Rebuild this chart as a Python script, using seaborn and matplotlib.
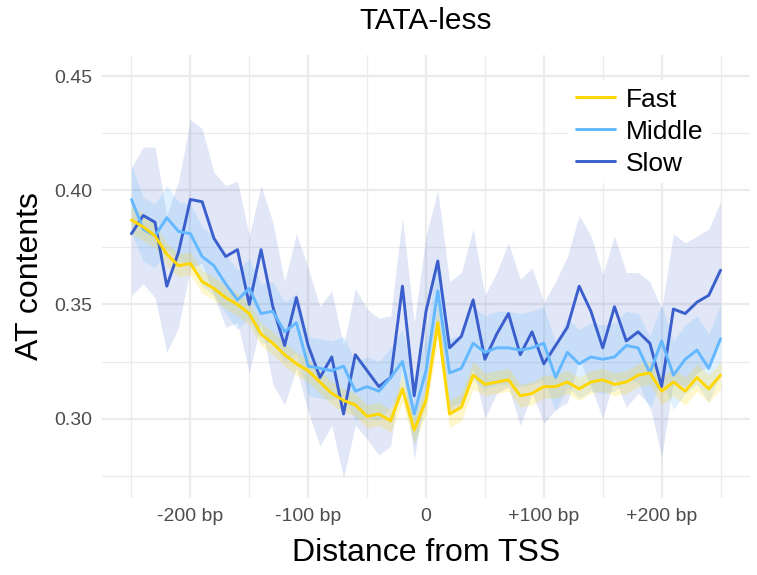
import matplotlib
matplotlib.use("Agg")
import matplotlib.pyplot as plt
import pandas as pd
import seaborn as sns
from matplotlib.lines import Line2D
from matplotlib.ticker import FixedLocator

# distance from TSS (bp), one bin every 10 bp
positions = list(range(-250, 251, 10))

fast_at = [0.387, 0.384, 0.380, 0.372, 0.367, 0.368, 0.360, 0.357, 0.353, 0.350,
           0.346, 0.337, 0.333, 0.328, 0.324, 0.321, 0.316, 0.311, 0.308, 0.306,
           0.301, 0.302, 0.299, 0.313, 0.295, 0.308, 0.342, 0.302, 0.305, 0.319,
           0.315, 0.316, 0.317, 0.310, 0.311, 0.314, 0.314, 0.316, 0.313, 0.316,
           0.317, 0.315, 0.316, 0.319, 0.320, 0.312, 0.316, 0.312, 0.318, 0.313,
           0.319]
middle_at = [0.396, 0.383, 0.380, 0.388, 0.382, 0.381, 0.371, 0.367, 0.359, 0.352,
             0.357, 0.346, 0.347, 0.338, 0.342, 0.323, 0.322, 0.321, 0.323, 0.312,
             0.314, 0.312, 0.318, 0.325, 0.302, 0.321, 0.356, 0.320, 0.322, 0.333,
             0.329, 0.331, 0.331, 0.330, 0.331, 0.333, 0.318, 0.329, 0.324, 0.327,
             0.326, 0.327, 0.332, 0.331, 0.320, 0.334, 0.319, 0.326, 0.330, 0.322,
             0.335]
slow_at = [0.381, 0.389, 0.386, 0.358, 0.373, 0.396, 0.395, 0.379, 0.371, 0.374,
           0.350, 0.374, 0.349, 0.332, 0.353, 0.332, 0.318, 0.327, 0.302, 0.328,
           0.321, 0.314, 0.318, 0.358, 0.310, 0.347, 0.369, 0.331, 0.336, 0.352,
           0.326, 0.337, 0.346, 0.328, 0.338, 0.324, 0.332, 0.340, 0.358, 0.347,
           0.331, 0.349, 0.334, 0.338, 0.333, 0.314, 0.348, 0.346, 0.351, 0.354,
           0.365]

# ribbons
fast_err = [0.006, 0.006, 0.005, 0.005, 0.005, 0.005, 0.005, 0.005, 0.005, 0.005,
            0.005, 0.005, 0.005, 0.005, 0.005, 0.005, 0.005, 0.005, 0.005, 0.005,
            0.005, 0.005, 0.005, 0.006, 0.006, 0.006, 0.007, 0.006, 0.006, 0.006,
            0.005, 0.005, 0.005, 0.005, 0.005, 0.005, 0.005, 0.005, 0.005, 0.005,
            0.005, 0.005, 0.005, 0.005, 0.005, 0.006, 0.006, 0.006, 0.006, 0.006,
            0.006]
middle_err = [0.015, 0.014, 0.014, 0.014, 0.013, 0.013, 0.013, 0.013, 0.013, 0.013,
              0.013, 0.013, 0.013, 0.013, 0.013, 0.013, 0.013, 0.013, 0.013, 0.013,
              0.013, 0.013, 0.013, 0.014, 0.014, 0.015, 0.016, 0.015, 0.015, 0.016,
              0.016, 0.016, 0.016, 0.016, 0.016, 0.016, 0.015, 0.015, 0.015, 0.015,
              0.015, 0.015, 0.015, 0.015, 0.016, 0.016, 0.015, 0.015, 0.015, 0.015,
              0.015]
slow_low = [0.354, 0.359, 0.353, 0.329, 0.340, 0.366, 0.368, 0.354, 0.340, 0.342,
            0.320, 0.342, 0.315, 0.306, 0.322, 0.303, 0.288, 0.297, 0.274, 0.297,
            0.291, 0.284, 0.288, 0.324, 0.282, 0.314, 0.338, 0.302, 0.306, 0.322,
            0.300, 0.311, 0.314, 0.297, 0.311, 0.298, 0.304, 0.307, 0.326, 0.314,
            0.300, 0.318, 0.305, 0.311, 0.306, 0.283, 0.316, 0.314, 0.320, 0.323,
            0.335]
slow_high = [0.410, 0.419, 0.419, 0.389, 0.404, 0.431, 0.427, 0.408, 0.402, 0.404,
             0.380, 0.402, 0.386, 0.360, 0.381, 0.366, 0.349, 0.356, 0.332, 0.357,
             0.348, 0.344, 0.345, 0.388, 0.342, 0.380, 0.400, 0.360, 0.364, 0.383,
             0.354, 0.364, 0.377, 0.361, 0.366, 0.351, 0.360, 0.371, 0.389, 0.380,
             0.363, 0.380, 0.364, 0.364, 0.360, 0.348, 0.381, 0.377, 0.380, 0.383,
             0.395]

groups = ["Fast", "Middle", "Slow"]
palette = {"Fast": "#FFD700", "Middle": "#63B8FF", "Slow": "#3A5FCD"}

x_major = [-200, -100, 0, 100, 200]
x_labels = ["-200 bp", "-100 bp", "0", "+100 bp", "+200 bp"]
x_minor = [-250, -150, -50, 50, 150, 250]
y_major = [0.30, 0.35, 0.40, 0.45]
y_minor = [0.275, 0.325, 0.375, 0.425]

df = pd.DataFrame({
    "pos": positions * 3,
    "at": fast_at + middle_at + slow_at,
    "group": sum([[g] * len(positions) for g in groups], []),
})
df["low"] = list(pd.Series(fast_at) - pd.Series(fast_err)) + \
    list(pd.Series(middle_at) - pd.Series(middle_err)) + slow_low
df["high"] = list(pd.Series(fast_at) + pd.Series(fast_err)) + \
    list(pd.Series(middle_at) + pd.Series(middle_err)) + slow_high

sns.set_theme(style="white")
plt.rcParams["font.family"] = ["Liberation Sans", "DejaVu Sans"]

fig = plt.figure(figsize=(7.57, 5.75), dpi=100)
ax = fig.add_axes([102 / 757, 1 - 498 / 575, 648 / 757, 443 / 575])

ribbon_alpha = {"Slow": 0.15, "Middle": 0.2, "Fast": 0.2}
# slow first so the lighter groups sit on top
for g in ["Slow", "Middle", "Fast"]:
    sub = df[df["group"] == g]
    ax.fill_between(sub["pos"], sub["low"], sub["high"], color=palette[g],
                    alpha=ribbon_alpha[g], lw=0, zorder=2)
    sns.lineplot(data=sub, x="pos", y="at", color=palette[g], lw=2.1,
                 ax=ax, legend=False, zorder=3)

ax.set_xlim(-275, 275)
ax.set_ylim(0.2652, 0.4593)
ax.set_xticks(x_major)
ax.set_xticklabels(x_labels)
ax.xaxis.set_minor_locator(FixedLocator(x_minor))
ax.set_yticks(y_major)
ax.set_yticklabels([f"{v:.2f}" for v in y_major])
ax.yaxis.set_minor_locator(FixedLocator(y_minor))
ax.grid(which="major", color="#EBEBEB", lw=1.6, zorder=0)
ax.grid(which="minor", color="#EBEBEB", lw=0.9, zorder=0)
ax.set_axisbelow(True)
for s in ax.spines.values():
    s.set_visible(False)
ax.tick_params(which="both", length=0, labelsize=14, colors="#4D4D4D", pad=7)
ax.set_xlabel("")
ax.set_ylabel("")

fig.text(426 / 757, 1 - 21 / 575, "TATA-less", ha="center", va="center",
         fontsize=21.5, color="black")
fig.text(426 / 757, 1 - 553 / 575, "Distance from TSS", ha="center", va="center",
         fontsize=23, color="black")
fig.text(30 / 757, 1 - 276 / 575, "AT contents", ha="center", va="center",
         rotation=90, fontsize=23, color="black")

handles = [Line2D([0], [0], color=palette[g], lw=2.1) for g in groups]
leg = ax.legend(handles, groups, loc="upper right", bbox_to_anchor=(0.94, 0.944),
                frameon=True, fontsize=19, handlelength=1.5, handletextpad=0.4,
                labelspacing=0.3, borderpad=0.3, borderaxespad=0,
                labelcolor="black")
leg.get_frame().set_facecolor("white")
leg.get_frame().set_edgecolor("none")
leg.get_frame().set_alpha(1)

fig.savefig("out.png", dpi=100)
